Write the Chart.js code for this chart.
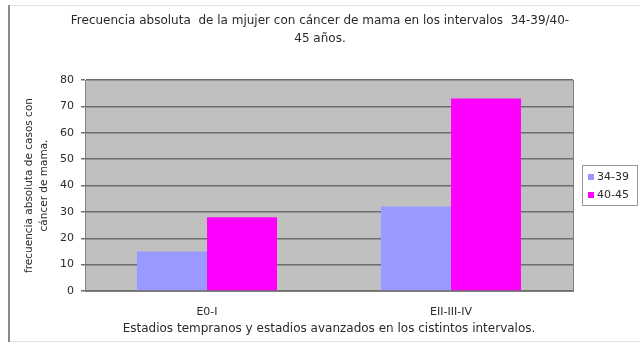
<!DOCTYPE html>
<html>
<head>
<meta charset="utf-8">
<script src="https://cdn.jsdelivr.net/npm/chart.js@4/dist/chart.umd.min.js"></script>
<style>
  html, body { margin: 0; padding: 0; background: #fff; }
  #wrap { width: 640px; height: 352px; }
</style>
</head>
<body>
<div id="wrap"><canvas id="chart" width="640" height="352"></canvas></div>
<script>
// data
const categories = ['E0-I', 'EII-III-IV'];
const seriesNames = ['34-39', '40-45'];
const values3439 = [15, 32];
const values4045 = [28, 73];
const titleLines = ['Frecuencia absoluta  de la mjujer con cáncer de mama en los intervalos  34-39/40-', '45 años.'];
const yTitleLines = ['frecuencia absoluta de casos con', 'cáncer de mama.'];
const xTitle = 'Estadios tempranos y estadios avanzados en los cistintos intervalos.';

const FONT = '"DejaVu Sans", sans-serif';

// grey plot area, frame and the boxed legend of the old excel chart
const plotBg = {
    id: 'plotBg',
    beforeDraw(chart) {
        const { ctx, chartArea: a } = chart;
        ctx.save();
        ctx.fillStyle = '#c0c0c0';
        ctx.fillRect(a.left, a.top, a.right - a.left, a.bottom - a.top);
        ctx.restore();
    },
    afterDraw(chart) {
        const { ctx, chartArea: a } = chart;
        ctx.save();
        ctx.strokeStyle = '#808080';
        ctx.lineWidth = 1;
        ctx.beginPath();
        ctx.moveTo(a.right + 0.5, a.top);
        ctx.lineTo(a.right + 0.5, a.bottom);
        ctx.stroke();
        // chart frame
        ctx.strokeStyle = '#e4e4e4';
        ctx.beginPath();
        ctx.moveTo(8, 5.5); ctx.lineTo(640, 5.5);
        ctx.moveTo(8, 341.5); ctx.lineTo(640, 341.5);
        ctx.stroke();
        ctx.strokeStyle = '#8a8a8a';
        ctx.lineWidth = 2;
        ctx.beginPath();
        ctx.moveTo(9, 5); ctx.lineTo(9, 342);
        ctx.stroke();

        // legend
        const lx = 582, ly = 165, lw = 55, lh = 40;
        ctx.lineWidth = 1;
        ctx.strokeStyle = '#9a9a9a';
        ctx.fillStyle = '#fff';
        ctx.fillRect(lx, ly, lw, lh);
        ctx.strokeRect(lx + 0.5, ly + 0.5, lw, lh);
        ctx.font = '11px ' + FONT;
        ctx.textBaseline = 'middle';
        chart.data.datasets.forEach((ds, i) => {
            const y = ly + 12 + i * 18;
            ctx.fillStyle = ds.backgroundColor;
            ctx.fillRect(lx + 6, y - 3, 6, 6);
            ctx.fillStyle = '#2a2a2a';
            ctx.fillText(ds.label, lx + 15, y);
        });
        ctx.restore();
    }
};

new Chart(document.getElementById('chart'), {
    type: 'bar',
    data: {
        labels: categories,
        datasets: [
            { label: seriesNames[0], data: values3439, backgroundColor: '#9999ff' },
            { label: seriesNames[1], data: values4045, backgroundColor: '#ff00ff' }
        ]
    },
    options: {
        responsive: false,
        animation: false,
        layout: { padding: { left: 0, right: 0, top: 0, bottom: 12 } },
        datasets: { bar: { categoryPercentage: 0.574, barPercentage: 1.0 } },
        plugins: {
            legend: { display: false },
            tooltip: { enabled: false },
            title: {
                display: true,
                text: titleLines,
                color: '#2a2a2a',
                font: { family: FONT, size: 12, weight: 'normal', lineHeight: 1.5 },
                padding: { top: 12, bottom: 32 }
            }
        },
        scales: {
            x: {
                grid: { display: false, drawTicks: false },
                border: { color: '#808080' },
                ticks: { color: '#2a2a2a', font: { family: FONT, size: 11 }, padding: 15 },
                title: {
                    display: true,
                    text: xTitle,
                    color: '#2a2a2a',
                    font: { family: FONT, size: 12 },
                    padding: { top: 5 }
                },
                afterFit(scale) { scale.height = 49; }
            },
            y: {
                min: 0,
                max: 80,
                ticks: { stepSize: 10, color: '#2a2a2a', font: { family: FONT, size: 11 }, padding: 7 },
                grid: { color: '#6c6c6c', tickLength: 4, lineWidth: 1.5 },
                border: { color: '#808080' },
                title: {
                    display: true,
                    text: yTitleLines,
                    color: '#2a2a2a',
                    font: { family: FONT, size: 10.5, lineHeight: 1.5 },
                    padding: { top: 21, bottom: 0 }
                },
                afterFit(scale) { scale.width = 85; }
            },
            // empty space on the right where the legend sits
            yRight: {
                position: 'right',
                display: true,
                ticks: { display: false },
                grid: { display: false, drawTicks: false },
                border: { display: false },
                afterFit(scale) { scale.width = 67; }
            }
        }
    },
    plugins: [plotBg]
});
</script>
</body>
</html>
